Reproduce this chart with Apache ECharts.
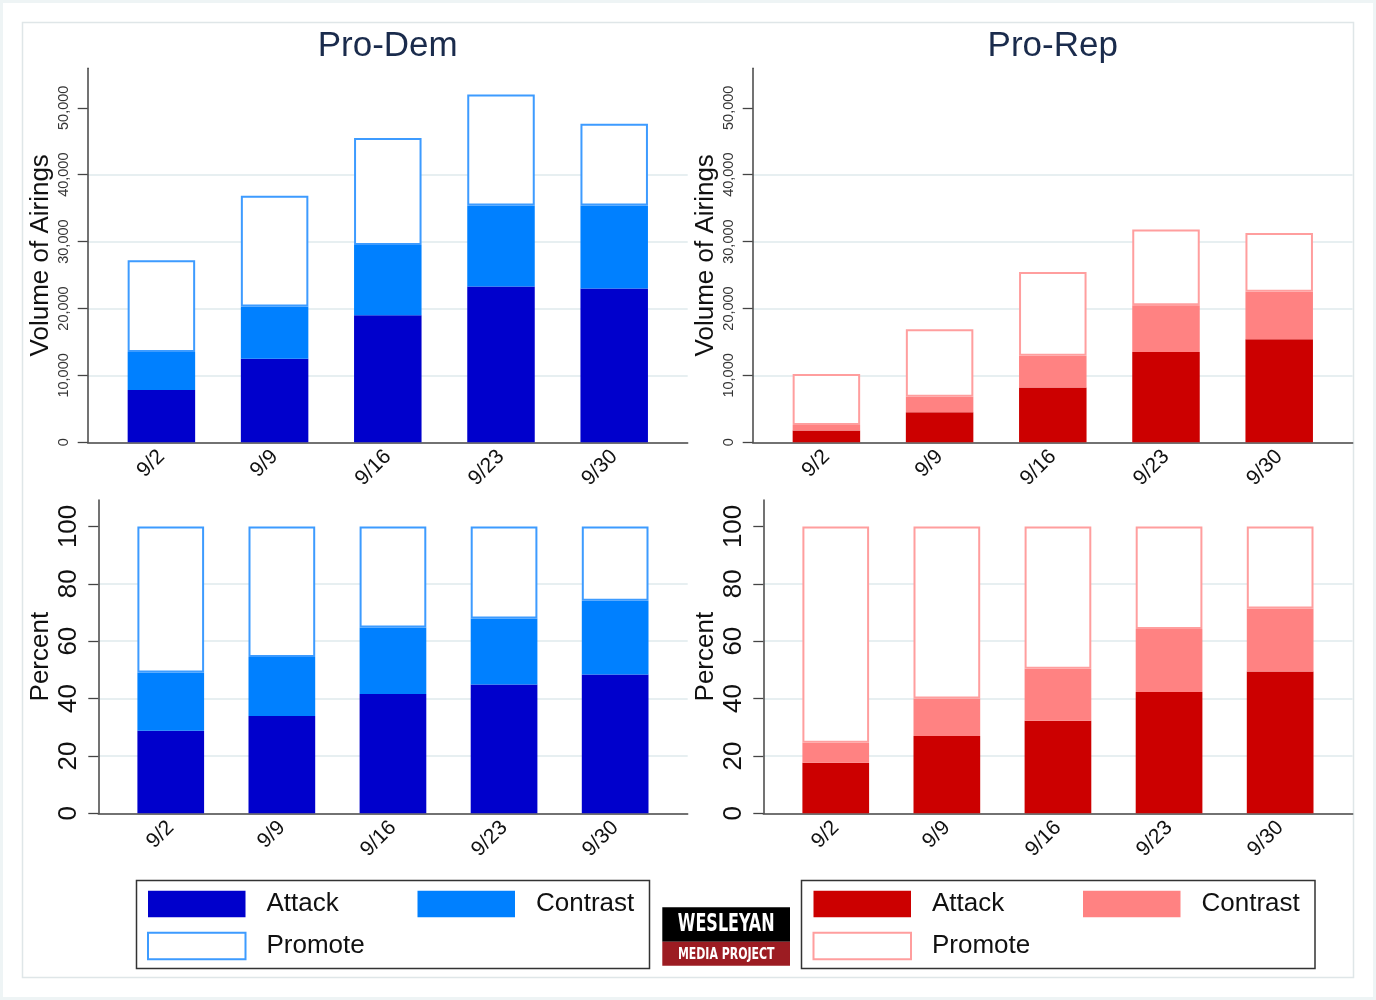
<!DOCTYPE html>
<html>
<head>
<meta charset="utf-8">
<script src="https://cdn.jsdelivr.net/npm/echarts@6/dist/echarts.min.js"></script>
<style>
html,body{margin:0;padding:0;background:#eef4f5;}
#chart{position:absolute;left:0;top:0;width:1376px;height:1000px;}
</style>
</head>
<body>
<div id="chart"></div>
<script>
// ---- data ----
const cats = ['9/2', '9/9', '9/16', '9/23', '9/30'];
const volTicks = [0, 10000, 20000, 30000, 40000, 50000];
const pctTicks = [0, 20, 40, 60, 80, 100];

const demAttackVol   = [7800, 12500, 19000, 23300, 23000];
const demContrastVol = [5700, 7800, 10500, 12100, 12400];
const demPromoteVol  = [13700, 16550, 16000, 16600, 12200];

const repAttackVol   = [1750, 4500, 8200, 13500, 15400];
const repContrastVol = [850, 2300, 4750, 7000, 7100];
const repPromoteVol  = [7600, 10100, 12500, 11300, 8800];

const demAttackPct   = [28.8, 33.9, 41.6, 44.9, 48.4];
const demContrastPct = [20.3, 20.6, 23.2, 23.0, 25.7];
const demPromotePct  = [50.9, 45.5, 35.2, 32.1, 25.9];

const repAttackPct   = [17.6, 26.9, 32.3, 42.3, 49.4];
const repContrastPct = [7.0, 13.1, 18.1, 21.9, 22.0];
const repPromotePct  = [75.4, 60.0, 49.6, 35.8, 28.6];

// ---- styling ----
const FONT = 'Liberation Sans, Arial, sans-serif';
const C = {
  demAttack: '#0000cc', demContrast: '#0080ff', demPromote: '#3d9bff',
  repAttack: '#cc0000', repContrast: '#ff8282', repPromote: '#ff9e9e'
};
const VOL_MAX = 55900, PCT_MAX = 109.2;

const chart = echarts.init(document.getElementById('chart'), null, {renderer: 'canvas'});

// panels: frame grid (axes, gridlines) + bar grid (category band area)
const panels = [
  {frame: {left: 87.7, top: 68.3, width: 600, height: 374}, bars: {left: 104.8, width: 566}, vol: true},
  {frame: {left: 752.7, top: 68.3, width: 600, height: 374}, bars: {left: 769.8, width: 566}, vol: true},
  {frame: {left: 98.3, top: 500, width: 589.4, height: 313.3}, bars: {left: 115.2, width: 555.5}, vol: false},
  {frame: {left: 763.3, top: 500, width: 589.4, height: 313.3}, bars: {left: 780.2, width: 555.5}, vol: false}
];

const grids = [], xAxes = [], yAxes = [];
panels.forEach((p, k) => {
  const f = p.frame;
  grids.push({left: f.left, top: f.top, width: f.width, height: f.height});
  grids.push({left: p.bars.left, top: f.top, width: p.bars.width, height: f.height});
  const ticks = p.vol ? volTicks : pctTicks;
  const max = p.vol ? VOL_MAX : PCT_MAX;
  // frame axes
  xAxes.push({
    type: 'value', gridIndex: 2 * k, min: 0, max: 1,
    axisLine: {show: true, onZero: false, lineStyle: {color: '#444', width: 1.5}},
    axisTick: {show: false}, axisLabel: {show: false}, splitLine: {show: false}
  });
  yAxes.push({
    type: 'value', gridIndex: 2 * k, min: 0, max: max,
    interval: p.vol ? 10000 : 20,
    name: p.vol ? 'Volume of Airings' : 'Percent',
    nameLocation: 'middle',
    nameGap: p.vol ? 34 : 44,
    nameTextStyle: {fontSize: 26, fontFamily: FONT, color: '#111'},
    axisLine: {show: true, onZero: false, lineStyle: {color: '#444', width: 1.5}},
    axisTick: {show: true, length: 10, customValues: ticks, lineStyle: {color: '#444', width: 1.3}},
    splitLine: {show: true, showMinLine: false, showMaxLine: false, lineStyle: {color: '#e7eff1', width: 2}},
    axisLabel: {
      customValues: ticks,
      rotate: 90, margin: 16,
      fontSize: p.vol ? 14.5 : 26, fontFamily: FONT, color: p.vol ? '#333' : '#111',
      formatter: v => p.vol ? Number(v).toLocaleString('en-US') : String(v)
    }
  });
  // bar axes
  xAxes.push({
    type: 'category', gridIndex: 2 * k + 1, data: cats, boundaryGap: true,
    axisLine: {show: false}, axisTick: {show: false}, splitLine: {show: false},
    axisLabel: {rotate: 45, fontSize: 21, fontFamily: FONT, color: '#111', margin: 11, interval: 0}
  });
  yAxes.push({
    type: 'value', gridIndex: 2 * k + 1, min: 0, max: max, show: false,
    splitLine: {show: false}
  });
});

function bars(name, arr, color, border, panel, stack, width) {
  return {
    type: 'bar', name: name, xAxisIndex: 2 * panel + 1, yAxisIndex: 2 * panel + 1, stack: stack,
    barWidth: width,
    data: arr,
    itemStyle: border
      ? {color: '#ffffff', borderColor: border, borderWidth: 2}
      : {color: color, borderWidth: 0},
    emphasis: {disabled: true},
    silent: true
  };
}

const series = [
  bars('Dem Attack', demAttackVol, C.demAttack, null, 0, 'dv', 67.5),
  bars('Dem Contrast', demContrastVol, C.demContrast, null, 0, 'dv', 67.5),
  bars('Dem Promote', demPromoteVol, '#fff', C.demPromote, 0, 'dv', 67.5),
  bars('Rep Attack', repAttackVol, C.repAttack, null, 1, 'rv', 67.5),
  bars('Rep Contrast', repContrastVol, C.repContrast, null, 1, 'rv', 67.5),
  bars('Rep Promote', repPromoteVol, '#fff', C.repPromote, 1, 'rv', 67.5),
  bars('Dem Attack', demAttackPct, C.demAttack, null, 2, 'dp', 66.7),
  bars('Dem Contrast', demContrastPct, C.demContrast, null, 2, 'dp', 66.7),
  bars('Dem Promote', demPromotePct, '#fff', C.demPromote, 2, 'dp', 66.7),
  bars('Rep Attack', repAttackPct, C.repAttack, null, 3, 'rp', 66.7),
  bars('Rep Contrast', repContrastPct, C.repContrast, null, 3, 'rp', 66.7),
  bars('Rep Promote', repPromotePct, '#fff', C.repPromote, 3, 'rp', 66.7)
];

function legendFor(left, names, styles) {
  return {
    left: left, top: 888, orient: 'vertical', padding: 0,
    itemWidth: 97.5, itemHeight: 26.5, itemGap: 10,
    icon: 'rect', selectedMode: false,
    formatter: n => n.replace(/^(Dem|Rep) /, ''),
    textStyle: {fontSize: 26, fontFamily: FONT, color: '#111', lineHeight: 32, padding: [0, 0, 0, 16]},
    data: names.map((n, k) => ({name: n, icon: 'rect', itemStyle: styles[k]}))
  };
}

const legends = [
  legendFor(147, ['Dem Attack', 'Dem Promote'],
    [{color: C.demAttack, borderWidth: 0}, {color: '#fff', borderColor: C.demPromote, borderWidth: 2}]),
  legendFor(417.5, ['Dem Contrast'], [{color: C.demContrast, borderWidth: 0}]),
  legendFor(812.5, ['Rep Attack', 'Rep Promote'],
    [{color: C.repAttack, borderWidth: 0}, {color: '#fff', borderColor: C.repPromote, borderWidth: 2}]),
  legendFor(1083, ['Rep Contrast'], [{color: C.repContrast, borderWidth: 0}])
];

const graphic = [
  {type: 'rect', z: -10, silent: true, shape: {x: 3, y: 3, width: 1370, height: 994}, style: {fill: '#ffffff'}},
  {type: 'rect', z: -9, silent: true, shape: {x: 22.5, y: 22.5, width: 1331, height: 955}, style: {fill: '#ffffff', stroke: '#dfe6e8', lineWidth: 1.5}},
  {type: 'text', z: 10, silent: true, x: 387.7, y: 46, style: {text: 'Pro-Dem', font: '35px ' + FONT, fill: '#1a2b4c', align: 'center', verticalAlign: 'middle'}},
  {type: 'text', z: 10, silent: true, x: 1052.7, y: 46, style: {text: 'Pro-Rep', font: '35px ' + FONT, fill: '#1a2b4c', align: 'center', verticalAlign: 'middle'}},
  {type: 'rect', z: 10, silent: true, shape: {x: 136.5, y: 880.5, width: 513, height: 88}, style: {fill: 'none', stroke: '#333', lineWidth: 1.5}},
  {type: 'rect', z: 10, silent: true, shape: {x: 801.5, y: 880.5, width: 513.5, height: 88}, style: {fill: 'none', stroke: '#333', lineWidth: 1.5}},
  {type: 'rect', z: 10, silent: true, shape: {x: 662.3, y: 907.3, width: 127.7, height: 34.4}, style: {fill: '#000000'}},
  {type: 'rect', z: 10, silent: true, shape: {x: 662.3, y: 941.7, width: 127.7, height: 24}, style: {fill: '#9c1c22'}},
  {type: 'text', z: 11, silent: true, x: 726.2, y: 925, scaleX: 0.74,
    style: {text: 'WESLEYAN', font: 'bold 24px "DejaVu Sans Condensed", "DejaVu Sans", sans-serif', fill: '#ffffff', align: 'center', verticalAlign: 'middle'}},
  {type: 'text', z: 11, silent: true, x: 726.2, y: 954.5, scaleX: 0.76,
    style: {text: 'MEDIA PROJECT', font: 'bold 16px "DejaVu Sans Condensed", "DejaVu Sans", sans-serif', fill: '#ffffff', align: 'center', verticalAlign: 'middle'}}
];

chart.setOption({
  animation: false,
  backgroundColor: '#eef4f5',
  grid: grids,
  xAxis: xAxes,
  yAxis: yAxes,
  legend: legends,
  graphic: graphic,
  series: series
});
</script>
</body>
</html>
